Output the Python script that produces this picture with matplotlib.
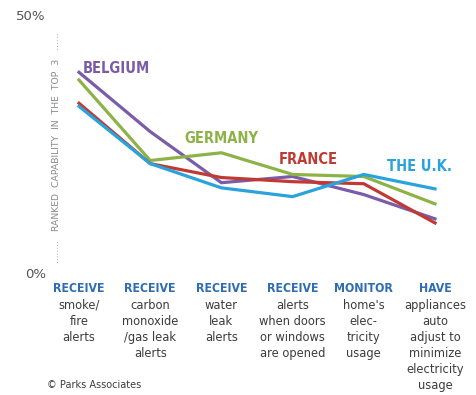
"""Smart home capabilities ranked in the top 3, by country (Parks Associates)."""

import matplotlib

matplotlib.use("Agg")
import matplotlib.pyplot as plt
import matplotlib.transforms as mtransforms
from matplotlib import font_manager

# data
CAT_HEADS = ["RECEIVE", "RECEIVE", "RECEIVE", "RECEIVE", "MONITOR", "HAVE"]
CAT_BODIES = [
    "smoke/\nfire\nalerts",
    "carbon\nmonoxide\n/gas leak\nalerts",
    "water\nleak\nalerts",
    "alerts\nwhen doors\nor windows\nare opened",
    "home's\nelec-\ntricity\nusage",
    "appliances\nauto\nadjust to\nminimize\nelectricity\nusage",
]
belgium = [38.9, 27.4, 17.5, 18.7, 15.2, 10.5]
germany = [37.4, 21.8, 23.3, 19.1, 18.7, 13.4]
france = [32.9, 21.2, 18.5, 17.7, 17.3, 9.7]
uk = [32.3, 21.2, 16.5, 14.8, 19.1, 16.3]

SERIES = [
    ("BELGIUM", belgium, "#7a5ca8", (0.53, 39.6)),
    ("GERMANY", germany, "#8db347", (2.0, 26.0)),
    ("FRANCE", france, "#c03a33", (3.22, 21.9)),
    ("THE U.K.", uk, "#2aa3dc", (4.78, 20.7)),
]

HEAD_COLOR = "#2f6db3"
TEXT_COLOR = "#3c3c3c"


def condensed_font():
    """Pick a bold condensed/narrow face if one is installed."""
    for f in font_manager.fontManager.ttflist:
        nm = f"{f.name} {f.fname}".lower()
        if ("narrow" in nm or "condensed" in nm) and f.weight in (700, "bold"):
            return font_manager.FontProperties(fname=f.fname)
    for f in font_manager.fontManager.ttflist:
        nm = f"{f.name} {f.fname}".lower()
        if "narrow" in nm or "condensed" in nm:
            return font_manager.FontProperties(fname=f.fname, weight="bold")
    return font_manager.FontProperties(family="DejaVu Sans", weight="bold")


def cond(size):
    fp = condensed_font().copy()
    fp.set_size(size)
    return fp


fig = plt.figure(figsize=(4.77, 3.95), dpi=100)
W, H = 477, 395
ax = fig.add_axes([79 / W, (H - 273) / H, (435 - 79) / W, (273 - 15) / H])

x = list(range(len(CAT_HEADS)))
for name, vals, color, (lx, ly) in SERIES:
    ax.plot(x, vals, color=color, lw=2.3, clip_on=False, solid_joinstyle="miter")
    ax.text(lx, ly, name, color=color, fontproperties=cond(10.5),
            ha="center", va="center")

ax.set_xlim(0, 5)
ax.set_ylim(0, 50)
ax.set_xticks([])
ax.set_yticks([0, 50])
ax.set_yticklabels(["0%", "50%"], color="#555555", fontsize=9.5)
ax.tick_params(axis="y", length=0, pad=24)
for side in ax.spines.values():
    side.set_visible(False)

# rotated y label with dotted leaders
fig.text(57 / W, (H - 148) / H,
         "........   RANKED  CAPABILITY  IN  THE  TOP  3   ......",
         rotation=90, ha="center", va="center", color="#8a8a8a", fontsize=6.7)

# category labels under the plot
trans = mtransforms.blended_transform_factory(ax.transData, fig.transFigure)
for i, (head, body) in enumerate(zip(CAT_HEADS, CAT_BODIES)):
    ax.text(i, (H - 288) / H, head, transform=trans, ha="center", va="center",
            color=HEAD_COLOR, fontproperties=cond(8.8))
    ax.text(i, (H - 299) / H, body, transform=trans, ha="center", va="top",
            color=TEXT_COLOR, fontsize=8.3, linespacing=1.3)

fig.text(47 / W, (H - 385) / H, "\u00a9 Parks Associates", ha="left", va="center",
         color=TEXT_COLOR, fontsize=7)

fig.savefig("out.png", dpi=100)
